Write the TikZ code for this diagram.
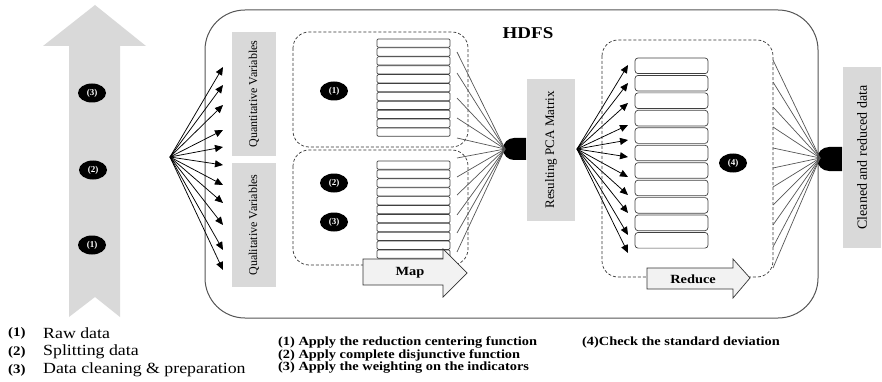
\documentclass[tikz,border=0pt]{standalone}
\usepackage{fontspec}
\setmainfont{Liberation Serif}
\newfontfamily\widefont[FakeStretch=1.15]{Liberation Serif}
\usetikzlibrary{arrows.meta,shapes.geometric}
\definecolor{boxgray}{HTML}{D9D9D9}
\definecolor{arrowfill}{HTML}{F2F2F2}
\definecolor{edgegray}{HTML}{555555}
\begin{document}
\begin{tikzpicture}[x=1pt,y=-1pt,
  graybox/.style={fill=boxgray,draw=none,rotate=90,inner sep=0pt,font=\fontsize{12}{12}\selectfont},
  blackdot/.style={ellipse,fill=black,text=white,minimum width=28pt,minimum height=19pt,inner sep=0pt,font=\bfseries\fontsize{9}{9}\selectfont},
  dashbox/.style={draw=black!80,dash pattern=on 3pt off 2pt,rounded corners=16pt,line width=0.7pt},
  cell/.style={draw=black!75,line width=0.7pt},
  fanarrow/.style={line width=0.75pt,-{Triangle[length=8pt,width=7pt]}},
  fanline/.style={draw=edgegray,line width=0.7pt},
  blockarrow/.style={draw=black!80,fill=arrowfill,line width=0.7pt},
  legendbold/.style={anchor=west,inner sep=0pt,font=\widefont\bfseries\fontsize{12.5}{12.5}\selectfont},
  legendtxt/.style={anchor=west,inner sep=0pt,font=\widefont\fontsize{15.5}{15.5}\selectfont},
  legendnum/.style={anchor=west,inner sep=0pt,font=\widefont\bfseries\fontsize{13}{13}\selectfont}
]
\useasboundingbox (0,0) rectangle (882,382);

% big up arrow
\fill[boxgray] (95,5) -- (146,46) -- (120,46) -- (120,317) -- (95,297) -- (69,317) -- (69,46) -- (43,46) -- cycle;
\node[blackdot] (s3) at (92,93) {(3)};
\node[blackdot] (s2) at (93,170) {(2)};
\node[blackdot] (s1) at (92,245) {(1)};

% HDFS frame
\draw[edgegray,line width=1pt,rounded corners=40pt] (205,10) rectangle (818,318);
\node[font=\widefont\bfseries\fontsize{16.5}{16.5}\selectfont] (hdfs) at (528,33) {HDFS};

% variable boxes
\node[graybox,minimum width=124pt,minimum height=44pt] (quant) at (254,94) {Quantitative Variables};
\node[graybox,minimum width=124pt,minimum height=44pt] (qual) at (254,225) {Qualitative Variables};

% first fan
\coordinate (f1) at (170,157);
\foreach \y [count=\i] in {67,85,105,130,147,165,185,203,225,250,270}{
  \coordinate (a\i) at (223,\y);
  \draw[fanarrow] (f1) -- (a\i);
}

% map dashed boxes
\draw[dashbox] (293,32) rectangle (468,147);
\draw[dashbox] (293,150) rectangle (468,265);
\foreach \i in {0,...,10}{
  \draw[cell,rounded corners=1.2pt] (377,39+\i*8.9) rectangle (450,39+\i*8.9+8.3);
  \draw[cell,rounded corners=1.2pt] (377,161+\i*8.9) rectangle (450,161+\i*8.9+8.3);
}
\node[blackdot] (m1) at (334,91) {(1)};
\node[blackdot] (m2) at (334,183) {(2)};
\node[blackdot] (m3) at (334,222) {(3)};

% map arrow
\draw[blockarrow] (363,259) -- (443,259) -- (443,249) -- (467,273) -- (443,297) -- (443,285) -- (363,285) -- cycle;
\node[font=\widefont\bfseries\fontsize{12.5}{12.5}\selectfont] (maplbl) at (410,273) {Map};

% first junction
\fill (526,138) -- (514,138) arc[start angle=90,end angle=270,radius=11pt] -- (526,160) -- cycle;
\coordinate (j1) at (505,149);
\foreach \y [count=\i] in {52,73,98,118,138,158,177,195,215,233,252}{
  \coordinate (ml\i) at (457,\y);
  \draw[fanline] (ml\i) -- (j1);
}

% PCA box
\node[graybox,minimum width=142pt,minimum height=48pt,font=\fontsize{13}{13}\selectfont] (pca) at (551,150) {Resulting PCA Matrix};

% second fan
\coordinate (f2) at (577,149);
\foreach \y [count=\i] in {65,83,103,125,140,157,177,195,213,235,253}{
  \coordinate (b\i) at (628,\y);
  \draw[fanarrow] (f2) -- (b\i);
}

% reduce box
\draw[dashbox] (602,40) rectangle (773,277);
\foreach \i in {0,...,10}{
  \draw[cell,rounded corners=3pt] (635,58+\i*17.45) rectangle (708,58+\i*17.45+15.6);
}
\node[blackdot] (r4) at (733,163) {(4)};
\draw[blockarrow] (647,268) -- (733,268) -- (733,259) -- (750,278) -- (733,298) -- (733,289) -- (647,289) -- cycle;
\node[font=\widefont\bfseries\fontsize{12.5}{12.5}\selectfont] (redlbl) at (693,279) {Reduce};

% second junction
\fill (842,147) -- (829,147) arc[start angle=90,end angle=270,radius=12pt] -- (842,171) -- cycle;
\coordinate (j2) at (820,158);
\foreach \y [count=\i] in {60,82,107,127,148,168,187,205,225,247,268}{
  \coordinate (rl\i) at (773,\y);
  \draw[fanline] (rl\i) -- (j2);
}

\node[graybox,minimum width=181pt,minimum height=38pt,font=\fontsize{14}{14}\selectfont] (clean) at (862,157.5) {Cleaned and reduced data};

% legends
\node[legendnum] (l1n) at (8,333) {(1)};
\node[legendtxt] (l1) at (43,333) {Raw data};
\node[legendnum] (l2n) at (8,352) {(2)};
\node[legendtxt] (l2) at (43,352) {Splitting data};
\node[legendnum] (l3n) at (8,370) {(3)};
\node[legendtxt] (l3) at (43,370) {Data cleaning \& preparation};

\node[legendbold] (g1) at (278,342) {(1) Apply the reduction centering function};
\node[legendbold] (g2) at (278,355) {(2) Apply complete disjunctive function};
\node[legendbold] (g3) at (278,368) {(3) Apply the weighting on the indicators};
\node[legendbold] (g4) at (582,342) {(4)Check the standard deviation};
\end{tikzpicture}
\end{document}
